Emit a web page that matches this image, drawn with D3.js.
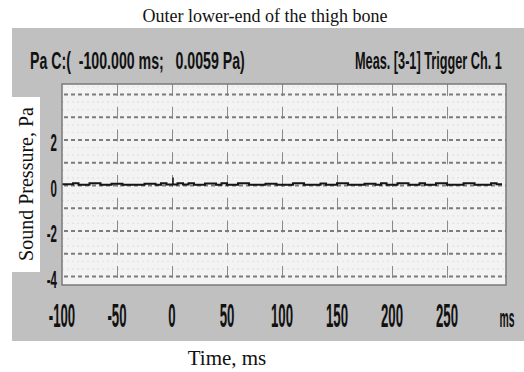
<!DOCTYPE html>
<html>
<head>
<meta charset="utf-8">
<script src="https://cdn.jsdelivr.net/npm/d3@7"></script>
<style>
  body { margin: 0; background: #fff; }
  svg { display: block; }
</style>
</head>
<body>
<div id="chart"></div>
<script>
// chart data
var xTicks = [-100, -50, 0, 50, 100, 150, 200, 250];
var yMajor = [-4, -3, -2, -1, 0, 1, 2, 3, 4];
var yLabels = [2, 0, -2, -4];
var times = [-100, -95, -90, -85, -80, -75, -70, -65, -60, -55, -50, -45, -40, -35, -30, -25, -20, -15, -10, -5,
             0, 5, 10, 15, 20, 25, 30, 35, 40, 45, 50, 55, 60, 65, 70, 75, 80, 85, 90, 95,
             100, 105, 110, 115, 120, 125, 130, 135, 140, 145, 150, 155, 160, 165, 170, 175, 180, 185, 190, 195,
             200, 205, 210, 215, 220, 225, 230, 235, 240, 245, 250, 255, 260, 265, 270, 275, 280, 285, 290, 295, 300];
var pressure = [0.06, 0.06, 0.1, 0.03, 0.03, 0.1, 0.1, 0.03, 0.03, 0.08, 0.08, 0.03, 0.03, 0.03, 0.03, 0.08, 0.08, 0.03, 0.1, 0.04,
                0.04, 0.1, 0.04, 0.1, 0.03, 0.03, 0.09, 0.09, 0.03, 0.1, 0.03, 0.03, 0.1, 0.1, 0.03, 0.03, 0.03, 0.08, 0.08, 0.03,
                0.03, 0.03, 0.1, 0.1, 0.03, 0.03, 0.03, 0.09, 0.03, 0.03, 0.1, 0.1, 0.03, 0.03, 0.03, 0.08, 0.08, 0.03, 0.1, 0.03,
                0.03, 0.1, 0.1, 0.03, 0.03, 0.1, 0.03, 0.03, 0.1, 0.1, 0.03, 0.03, 0.03, 0.1, 0.1, 0.03, 0.03, 0.03, 0.1, 0.06, 0.06];
var spikeTime = [0];
var spikeValue = [0.35];

var w = 524, h = 372;
var pl = 62, pt = 84, pr = 506, pb = 285;

var svg = d3.select("#chart").append("svg")
    .attr("width", w)
    .attr("height", h);

var x = d3.scaleLinear().domain([-100, 303.6]).range([pl, pr]);
var y = d3.scaleLinear().domain([-4.37, 4.46]).range([pb, pt]);

// gray instrument panel
svg.append("rect")
    .attr("x", 12).attr("y", 28)
    .attr("width", 512).attr("height", 313)
    .attr("fill", "#c0c0c0");

// white box behind the y axis title
svg.append("rect")
    .attr("x", 12).attr("y", 97)
    .attr("width", 28).attr("height", 175)
    .attr("fill", "#fff");

// plot background
svg.append("rect")
    .attr("x", pl).attr("y", pt)
    .attr("width", pr - pl).attr("height", pb - pt)
    .attr("fill", "#f3f3f3");

// faint minor grid
var minor = [];
yMajor.forEach(function(v) { minor.push(v + 1/3, v + 2/3, v - 1/3, v - 2/3); });
svg.selectAll(".minor")
    .data(minor.filter(function(v) { return y(v) > pt + 1 && y(v) < pb - 1; }))
    .enter().append("line")
    .attr("x1", pl).attr("x2", pr)
    .attr("y1", function(d) { return y(d); })
    .attr("y2", function(d) { return y(d); })
    .attr("stroke", "#e3e3e3")
    .attr("stroke-width", 1)
    .attr("stroke-dasharray", "2,3");

// vertical grid
svg.selectAll(".vgrid")
    .data(xTicks.slice(1))
    .enter().append("line")
    .attr("x1", function(d) { return Math.round(x(d)) + 0.5; })
    .attr("x2", function(d) { return Math.round(x(d)) + 0.5; })
    .attr("y1", pt).attr("y2", pb)
    .attr("stroke", "#8a8a8a")
    .attr("stroke-width", 1)
    .attr("stroke-dasharray", "12,10.75");

// major horizontal grid
svg.selectAll(".hgrid")
    .data(yMajor)
    .enter().append("line")
    .attr("x1", pl + 2).attr("x2", pr)
    .attr("y1", function(d) { return y(d); })
    .attr("y2", function(d) { return y(d); })
    .attr("stroke", "#7c7c7c")
    .attr("stroke-width", 2)
    .attr("stroke-dasharray", "4,3");

// signal
var line = d3.line()
    .x(function(d, i) { return x(times[i]); })
    .y(function(d) { return y(d); })
    .curve(d3.curveStepAfter);

svg.append("path")
    .datum(pressure)
    .attr("d", line)
    .attr("fill", "none")
    .attr("stroke", "#151515")
    .attr("stroke-width", 2);

svg.selectAll(".spike")
    .data(spikeTime)
    .enter().append("line")
    .attr("x1", function(d) { return x(d) + 1; })
    .attr("x2", function(d) { return x(d) + 1; })
    .attr("y1", y(0.05))
    .attr("y2", function(d, i) { return y(spikeValue[i]); })
    .attr("stroke", "#151515")
    .attr("stroke-width", 1.5);

// plot frame
svg.append("rect")
    .attr("x", pl).attr("y", pt)
    .attr("width", pr - pl).attr("height", pb - pt)
    .attr("fill", "none")
    .attr("stroke", "#7a7a7a")
    .attr("stroke-width", 1.5);

// condensed instrument lettering
function narrow(txt, px, py, size, sx, anchor) {
    return svg.append("text")
        .attr("transform", "translate(" + px + "," + py + ") scale(" + sx + ",1)")
        .attr("text-anchor", anchor)
        .style("white-space", "pre")
        .style("font-family", "'Liberation Sans', Arial, sans-serif")
        .style("font-weight", "bold")
        .style("font-size", size + "px")
        .attr("fill", "#111")
        .text(txt);
}

// squeeze a text to a given width
function fitted(txt, px, py, size, width) {
    var t = narrow(txt, px, py, size, 1, "start");
    var len = t.node().getComputedTextLength();
    t.attr("transform", "translate(" + px + "," + py + ") scale(" + (width / len) + ",1)");
}

yLabels.forEach(function(v) {
    narrow(v, 57, y(v) + 11, 23, 0.5, "end");
});
xTicks.forEach(function(v) {
    narrow(v, x(v), 327, 33, 0.4, "middle");
});
narrow("ms", 507, 327, 26, 0.4, "middle");

fitted("Pa C:(  -100.000 ms;   0.0059 Pa)", 30, 69, 24, 215);
fitted("Meas. [3-1] Trigger Ch. 1", 355, 69, 24, 147);

// serif titles
svg.append("text")
    .attr("x", 265).attr("y", 22)
    .attr("text-anchor", "middle")
    .style("font-family", "'Liberation Serif', 'Times New Roman', serif")
    .style("font-size", "18px")
    .attr("fill", "#111")
    .text("Outer lower-end of the thigh bone");

svg.append("text")
    .attr("transform", "translate(33,184) rotate(-90)")
    .attr("text-anchor", "middle")
    .style("font-family", "'Liberation Serif', 'Times New Roman', serif")
    .style("font-size", "20px")
    .attr("fill", "#111")
    .text("Sound Pressure, Pa");

svg.append("text")
    .attr("x", 227).attr("y", 365)
    .attr("text-anchor", "middle")
    .style("font-family", "'Liberation Serif', 'Times New Roman', serif")
    .style("font-size", "21px")
    .attr("fill", "#111")
    .text("Time, ms");
</script>
</body>
</html>
